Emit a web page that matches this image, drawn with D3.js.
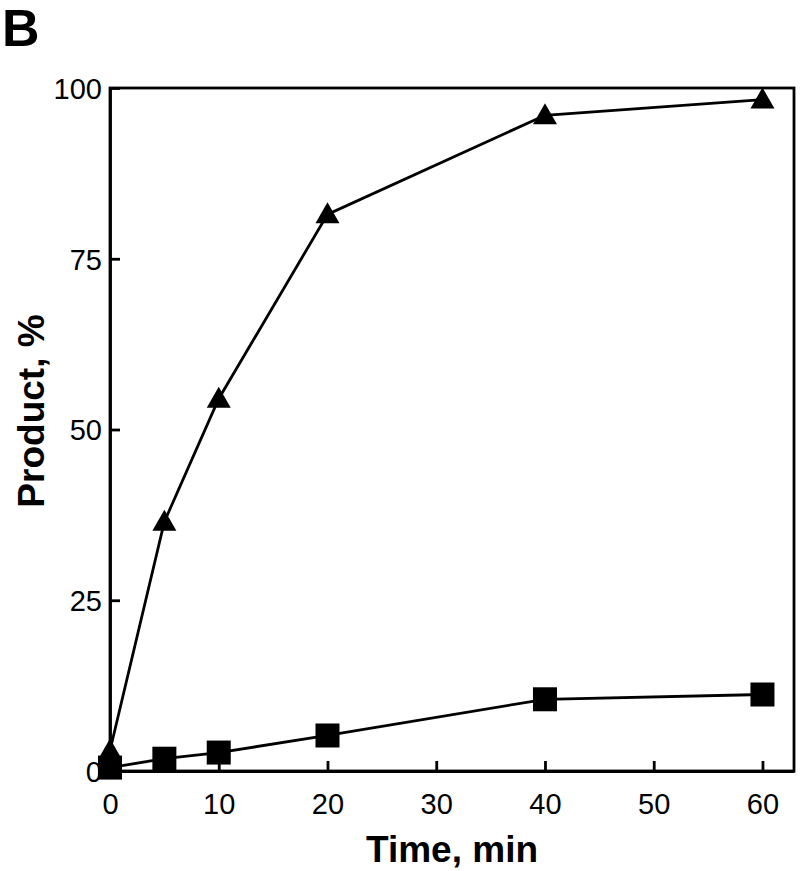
<!DOCTYPE html>
<html>
<head>
<meta charset="utf-8">
<script src="https://cdn.jsdelivr.net/npm/d3@7"></script>
<style>
  body { margin: 0; background: #fff; }
  text { font-family: "Liberation Sans", Arial, sans-serif; fill: #000; }
</style>
</head>
<body>
<svg id="chart" width="800" height="871"></svg>
<script>
// data
var times = [0, 5, 10, 20, 40, 60];
var triangleSeries = [3, 36.5, 54.5, 81.5, 96, 98.3];
var squareSeries = [0.5, 1.8, 2.7, 5.2, 10.5, 11.2];
var xTicks = [0, 10, 20, 30, 40, 50, 60];
var yTicks = [0, 25, 50, 75, 100];

var svg = d3.select("#chart");

// plot box
var mLeft = 110, mRight = 794, mTop = 88, mBottom = 771;

var x = d3.scaleLinear().domain([0, 62.9]).range([mLeft, mRight]);
var y = d3.scaleLinear().domain([0, 100]).range([mBottom, mTop]);

// frame
svg.append("rect")
  .attr("x", mLeft).attr("y", mTop)
  .attr("width", mRight - mLeft).attr("height", mBottom - mTop)
  .attr("fill", "none").attr("stroke", "#000").attr("stroke-width", 2.8);

// axes with inward ticks
var xAxis = svg.append("g")
  .attr("transform", "translate(0," + mBottom + ")")
  .call(d3.axisBottom(x).tickValues(xTicks).tickSizeInner(-10).tickSizeOuter(0).tickPadding(22));
var yAxis = svg.append("g")
  .attr("transform", "translate(" + mLeft + ",0)")
  .call(d3.axisLeft(y).tickValues(yTicks).tickSizeInner(-10).tickSizeOuter(0).tickPadding(8));

[xAxis, yAxis].forEach(function(a) {
  a.select(".domain").attr("stroke-width", 2.8);
  a.selectAll(".tick line").attr("stroke-width", 2.8);
  a.selectAll(".tick text")
    .style("font-size", "29px")
    .style("font-family", "Liberation Sans, Arial, sans-serif")
    .attr("fill", "#000");
});
yAxis.selectAll(".tick text").attr("dy", "0.36em");

// lines
var line = function(vals) {
  return d3.line()
    .x(function(d, i) { return x(times[i]); })
    .y(function(d) { return y(d); })(vals);
};

svg.append("path").attr("d", line(triangleSeries))
  .attr("fill", "none").attr("stroke", "#000").attr("stroke-width", 2.8);
svg.append("path").attr("d", line(squareSeries))
  .attr("fill", "none").attr("stroke", "#000").attr("stroke-width", 2.8);

// markers
svg.append("g").selectAll("path")
  .data(triangleSeries)
  .enter()
  .append("path")
    .attr("transform", function(d, i) { return "translate(" + x(times[i]) + "," + y(d) + ")"; })
    .attr("d", "M0,-12L12,9L-12,9Z")
    .attr("fill", "#000");

svg.append("g").selectAll("rect")
  .data(squareSeries)
  .enter()
  .append("rect")
    .attr("x", function(d, i) { return x(times[i]) - 12; })
    .attr("y", function(d) { return y(d) - 12; })
    .attr("width", 24).attr("height", 24)
    .attr("fill", "#000");

// titles
svg.append("text")
  .attr("x", 452).attr("y", 862)
  .attr("text-anchor", "middle")
  .style("font-size", "37px").style("font-weight", "bold")
  .text("Time, min");

svg.append("text")
  .attr("transform", "translate(44,411) rotate(-90)")
  .attr("text-anchor", "middle")
  .style("font-size", "37px").style("font-weight", "bold")
  .text("Product, %");

svg.append("text")
  .attr("x", 2).attr("y", 46)
  .attr("dy", 0)
  .style("font-size", "52px").style("font-weight", "bold")
  .text("B");
</script>
</body>
</html>
